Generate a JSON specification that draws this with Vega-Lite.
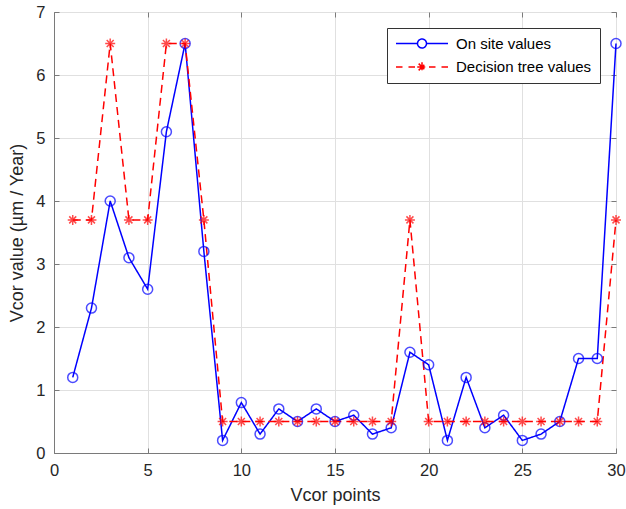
{
  "$schema": "https://vega.github.io/schema/vega-lite/v6.json",
  "width": 562,
  "height": 441,
  "autosize": "none",
  "padding": {"left": 54, "top": 12, "right": 10, "bottom": 56},
  "background": "white",
  "config": {
    "font": "Liberation Sans",
    "view": {"stroke": "#7a7a7a", "strokeWidth": 1},
    "axis": {
      "domainColor": "#7a7a7a",
      "tickColor": "#7a7a7a",
      "gridColor": "#e0e0e0",
      "labelColor": "#262626",
      "titleColor": "#262626",
      "labelFontSize": 16.5,
      "titleFontSize": 18,
      "titleFontWeight": "normal",
      "labelFont": "Liberation Sans",
      "titleFont": "Liberation Sans",
      "labelFlush": false
    }
  },
  "data": {
    "values": [
      {"x": 1, "v": 1.2, "s": "On site values"},
      {"x": 2, "v": 2.3, "s": "On site values"},
      {"x": 3, "v": 4.0, "s": "On site values"},
      {"x": 4, "v": 3.1, "s": "On site values"},
      {"x": 5, "v": 2.6, "s": "On site values"},
      {"x": 6, "v": 5.1, "s": "On site values"},
      {"x": 7, "v": 6.5, "s": "On site values"},
      {"x": 8, "v": 3.2, "s": "On site values"},
      {"x": 9, "v": 0.2, "s": "On site values"},
      {"x": 10, "v": 0.8, "s": "On site values"},
      {"x": 11, "v": 0.3, "s": "On site values"},
      {"x": 12, "v": 0.7, "s": "On site values"},
      {"x": 13, "v": 0.5, "s": "On site values"},
      {"x": 14, "v": 0.7, "s": "On site values"},
      {"x": 15, "v": 0.5, "s": "On site values"},
      {"x": 16, "v": 0.6, "s": "On site values"},
      {"x": 17, "v": 0.3, "s": "On site values"},
      {"x": 18, "v": 0.4, "s": "On site values"},
      {"x": 19, "v": 1.6, "s": "On site values"},
      {"x": 20, "v": 1.4, "s": "On site values"},
      {"x": 21, "v": 0.2, "s": "On site values"},
      {"x": 22, "v": 1.2, "s": "On site values"},
      {"x": 23, "v": 0.4, "s": "On site values"},
      {"x": 24, "v": 0.6, "s": "On site values"},
      {"x": 25, "v": 0.2, "s": "On site values"},
      {"x": 26, "v": 0.3, "s": "On site values"},
      {"x": 27, "v": 0.5, "s": "On site values"},
      {"x": 28, "v": 1.5, "s": "On site values"},
      {"x": 29, "v": 1.5, "s": "On site values"},
      {"x": 30, "v": 6.5, "s": "On site values"},
      {"x": 1, "v": 3.7, "s": "Decision tree values"},
      {"x": 2, "v": 3.7, "s": "Decision tree values"},
      {"x": 3, "v": 6.5, "s": "Decision tree values"},
      {"x": 4, "v": 3.7, "s": "Decision tree values"},
      {"x": 5, "v": 3.7, "s": "Decision tree values"},
      {"x": 6, "v": 6.5, "s": "Decision tree values"},
      {"x": 7, "v": 6.5, "s": "Decision tree values"},
      {"x": 8, "v": 3.7, "s": "Decision tree values"},
      {"x": 9, "v": 0.5, "s": "Decision tree values"},
      {"x": 10, "v": 0.5, "s": "Decision tree values"},
      {"x": 11, "v": 0.5, "s": "Decision tree values"},
      {"x": 12, "v": 0.5, "s": "Decision tree values"},
      {"x": 13, "v": 0.5, "s": "Decision tree values"},
      {"x": 14, "v": 0.5, "s": "Decision tree values"},
      {"x": 15, "v": 0.5, "s": "Decision tree values"},
      {"x": 16, "v": 0.5, "s": "Decision tree values"},
      {"x": 17, "v": 0.5, "s": "Decision tree values"},
      {"x": 18, "v": 0.5, "s": "Decision tree values"},
      {"x": 19, "v": 3.7, "s": "Decision tree values"},
      {"x": 20, "v": 0.5, "s": "Decision tree values"},
      {"x": 21, "v": 0.5, "s": "Decision tree values"},
      {"x": 22, "v": 0.5, "s": "Decision tree values"},
      {"x": 23, "v": 0.5, "s": "Decision tree values"},
      {"x": 24, "v": 0.5, "s": "Decision tree values"},
      {"x": 25, "v": 0.5, "s": "Decision tree values"},
      {"x": 26, "v": 0.5, "s": "Decision tree values"},
      {"x": 27, "v": 0.5, "s": "Decision tree values"},
      {"x": 28, "v": 0.5, "s": "Decision tree values"},
      {"x": 29, "v": 0.5, "s": "Decision tree values"},
      {"x": 30, "v": 3.7, "s": "Decision tree values"}
    ]
  },
  "layer": [
    {
      "mark": {"type": "line", "strokeWidth": 1.5},
      "encoding": {
        "x": {"field": "x", "type": "quantitative", "scale": {"domain": [0, 30], "nice": false},
              "axis": {"orient": "top", "labels": false, "title": null, "grid": true, "domain": false, "tickSize": -5, "values": [0,5,10,15,20,25,30]}},
        "y": {"field": "v", "type": "quantitative", "scale": {"domain": [0, 7], "nice": false},
              "axis": {"orient": "right", "labels": false, "title": null, "grid": true, "domain": false, "tickSize": -5, "values": [0,1,2,3,4,5,6,7]}},
        "color": {"field": "s", "type": "nominal",
                  "scale": {"domain": ["On site values", "Decision tree values"], "range": ["#0000ff", "#ff0000"]},
                  "legend": {
                    "title": null,
                    "orient": "top-right",
                    "offset": 16,
                    "fillColor": "white",
                    "strokeColor": "#333333",
                    "padding": 8,
                    "labelFontSize": 15,
                    "labelColor": "#000000",
                    "labelFont": "Liberation Sans",
                    "symbolSize": 100,
                    "labelOffset": 46,
                    "rowPadding": 6.5,
                    "encode": {
                      "symbols": {
                        "update": {
                          "shape": {"signal": "datum.value == 'On site values' ? 'M-5.2,0L-0.9,0M0.9,0L5.2,0M0.9,0A0.9,0.9 0 1,1 -0.9,0A0.9,0.9 0 1,1 0.9,0' : 'M-5.2,0L-3.9,0M-2.7,0L-1.4,0M1.4,0L2.7,0M3.9,0L5.2,0M-0.95,0L0.95,0M0,-0.95L0,0.95M-0.67,-0.67L0.67,0.67M-0.67,0.67L0.67,-0.67'"},
                          "fill": {"value": "transparent"},
                          "strokeDash": {"value": [1, 0]},
                          "strokeWidth": {"value": 1.5},
                          "xc": {"value": 27}
                        }
                      }
                    }
                  }},
        "strokeDash": {"field": "s", "type": "nominal",
                       "scale": {"domain": ["On site values", "Decision tree values"], "range": [[1, 0], [8, 5]]},
                       "legend": null}
      }
    },
    {
      "transform": [{"filter": "datum.s == 'On site values'"}],
      "mark": {"type": "point", "filled": false, "size": 100, "strokeWidth": 1.5, "shape": "circle", "color": "#0000ff"},
      "encoding": {
        "x": {"field": "x", "type": "quantitative",
              "axis": {"title": "Vcor points", "values": [0,5,10,15,20,25,30], "grid": false, "tickSize": -5, "labelPadding": 14, "titlePadding": 8}},
        "y": {"field": "v", "type": "quantitative",
              "axis": {"title": "Vcor value (µm / Year)", "values": [0,1,2,3,4,5,6,7], "grid": false, "tickSize": -5, "labelPadding": 14, "titlePadding": 9}}
      }
    },
    {
      "transform": [{"filter": "datum.s == 'Decision tree values'"}],
      "mark": {"type": "point", "filled": false, "size": 100, "strokeWidth": 1.5, "color": "#ff0000",
               "shape": "M-1,0L1,0M0,-1L0,1M-0.7,-0.7L0.7,0.7M-0.7,0.7L0.7,-0.7"},
      "encoding": {
        "x": {"field": "x", "type": "quantitative", "axis": null},
        "y": {"field": "v", "type": "quantitative", "axis": null}
      }
    }
  ],
  "resolve": {"axis": {"x": "independent", "y": "independent"}}
}
